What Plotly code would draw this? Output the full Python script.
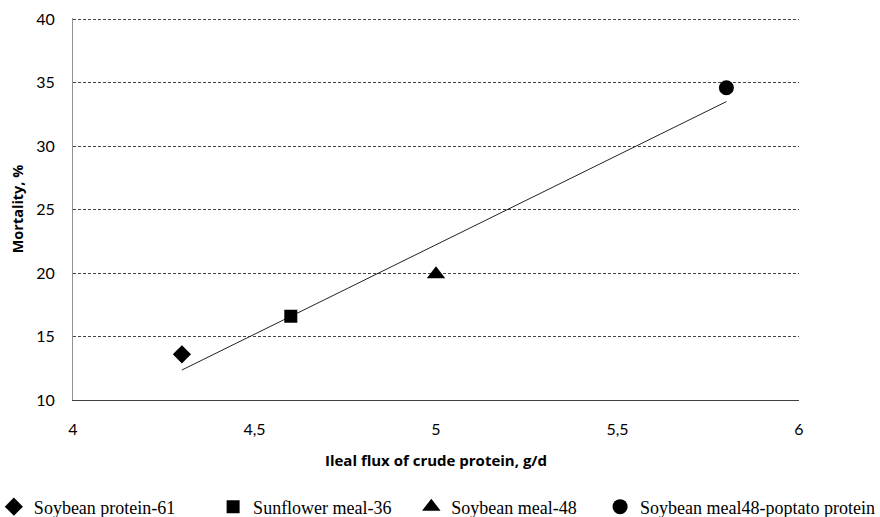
import numpy as np
import plotly.graph_objects as go

series_names = ["Soybean protein-61", "Sunflower meal-36", "Soybean meal-48",
                "Soybean meal48-poptato protein"]
flux = [4.3, 4.6, 5.0, 5.8]
mortality = [13.6, 16.6, 19.9, 34.6]
symbols = ["diamond", "square", "triangle-up", "circle"]
marker_sizes = [14, 13, 16, 15]
x_ticks = [4, 4.5, 5, 5.5, 6]
x_tick_labels = ["4", "4,5", "5", "5,5", "6"]
y_ticks = [10, 15, 20, 25, 30, 35, 40]

# horizontal position (paper fraction) of each legend entry box
legend_x = [-0.109, 0.193, 0.466, 0.726]
legend_keys = ["legend", "legend2", "legend3", "legend4"]

fig = go.Figure()

# linear trend line
slope, intercept = np.polyfit(flux, mortality, 1)
tx = [min(flux), max(flux)]
ty = [slope * v + intercept for v in tx]
fig.add_trace(go.Scatter(x=tx, y=ty, mode="lines",
                         line=dict(color="#222222", width=1),
                         showlegend=False, hoverinfo="skip"))

for name, xv, yv, sym, sz, lk in zip(series_names, flux, mortality, symbols,
                                     marker_sizes, legend_keys):
    fig.add_trace(go.Scatter(x=[xv], y=[yv], mode="markers", name=name, legend=lk,
                             marker=dict(symbol=sym, size=sz, color="black",
                                         line=dict(width=0))))

legend_font = dict(family="Liberation Serif, Times New Roman, serif", size=18, color="black")
legends = {}
for lk, lx in zip(legend_keys, legend_x):
    legends[lk] = dict(orientation="h", x=lx, xanchor="left", y=-0.28, yanchor="middle",
                       font=legend_font, itemsizing="trace", itemwidth=30,
                       bgcolor="rgba(0,0,0,0)", borderwidth=0)

fig.update_layout(
    width=880, height=517,
    margin=dict(l=73, r=81, t=18, b=117, autoexpand=False),
    paper_bgcolor="white", plot_bgcolor="white",
    showlegend=True,
    xaxis=dict(range=[4, 6], tickvals=x_ticks, ticktext=x_tick_labels,
               showgrid=False, zeroline=False, automargin=False,
               showline=True, linecolor="#404040", linewidth=1.3,
               ticks="", ticklabelstandoff=15,
               tickfont=dict(family="Lato, Open Sans, sans-serif", size=16, color="black"),
               title=dict(text="<b>Ileal flux of crude protein, g/d</b>", standoff=18,
                          font=dict(family="Open Sans, sans-serif", size=15, color="black"))),
    yaxis=dict(range=[10, 40.1], tickvals=y_ticks,
               showgrid=True, gridcolor="#444444", griddash="3px,2px", gridwidth=1,
               zeroline=False, automargin=False,
               showline=True, linecolor="#909090", linewidth=1,
               ticks="", ticklabelstandoff=14,
               tickfont=dict(family="Lato, Open Sans, sans-serif", size=16, color="black"),
               title=dict(text="<b>Mortality, %</b>", standoff=9,
                          font=dict(family="Open Sans, sans-serif", size=14.5, color="black"))),
    **legends,
)

fig.write_html("out.html")
